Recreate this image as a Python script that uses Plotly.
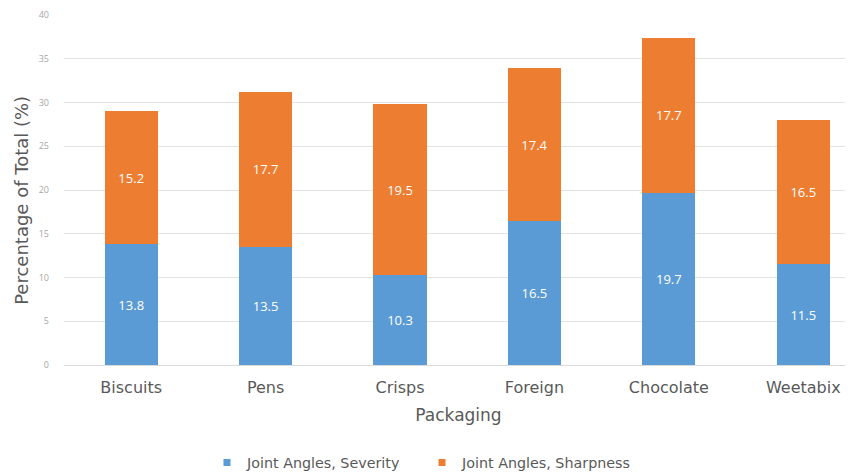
import plotly.graph_objects as go

categories = ["Biscuits", "Pens", "Crisps", "Foreign", "Chocolate", "Weetabix"]
severity = [13.8, 13.5, 10.3, 16.5, 19.7, 11.5]
sharpness = [15.2, 17.7, 19.5, 17.4, 17.7, 16.5]
series_names = ["Joint Angles, Severity", "Joint Angles, Sharpness"]
colors = ["#5B9BD5", "#ED7D31"]
y_ticks = [0, 5, 10, 15, 20, 25, 30, 35, 40]

# page body has an 8px margin, so the figure is sized to fit the window
W, H = 845, 465
FONT = "'Open Sans', 'Noto Sans', sans-serif"
WIDE = "'DejaVu Sans', sans-serif"

fig = go.Figure()
for vals, name, col in zip([severity, sharpness], series_names, colors):
    fig.add_trace(go.Bar(
        x=categories, y=vals, name=name, showlegend=False,
        marker=dict(color=col, line=dict(width=0)),
        text=[f"{v:.1f}" for v in vals], textposition="inside",
        insidetextanchor="middle", textangle=0,
        textfont=dict(color="white", size=13, family=FONT),
        width=0.395,
    ))
for name, col in zip(series_names, colors):
    fig.add_trace(go.Scatter(
        x=[None], y=[None], mode="markers", name=name,
        marker=dict(symbol="square", size=7, color=col),
    ))

fig.update_layout(
    barmode="stack",
    width=W, height=H,
    margin=dict(l=56, r=0, t=7, b=108, autoexpand=False),
    paper_bgcolor="white", plot_bgcolor="white",
    font=dict(family=FONT, color="#595959"),
    uniformtext=dict(mode="show", minsize=8),
    legend=dict(
        orientation="h", x=0.2355, xanchor="left", xref="container",
        y=0.022, yanchor="middle", yref="container",
        font=dict(size=14.3, color="#595959", family=WIDE),
        itemwidth=30, traceorder="normal",
        entrywidth=170, entrywidthmode="pixels",
    ),
    xaxis=dict(
        range=[-0.5, 5.37], automargin=False,
        tickfont=dict(size=16, color="#595959", family=WIDE),
        ticklabelstandoff=8,
        title=dict(text="Packaging", font=dict(size=17, color="#595959", family=WIDE), standoff=12),
        showline=True, linecolor="#d9d9d9", ticks="",
        showgrid=False,
    ),
    yaxis=dict(
        range=[0, 40], tickvals=y_ticks, automargin=False,
        tickfont=dict(size=9, color="#a6a6a6"),
        showgrid=True, gridcolor="#e3e3e3", gridwidth=1,
        zeroline=False, ticks="", ticklabelstandoff=14,
    ),
    annotations=[dict(
        text="Percentage of Total (%)", textangle=-90,
        xref="paper", yref="paper", x=0, y=0.469,
        xanchor="center", yanchor="middle", xshift=-42, showarrow=False,
        font=dict(size=18, color="#595959", family=WIDE),
    )],
)

fig.write_html("out.html")
